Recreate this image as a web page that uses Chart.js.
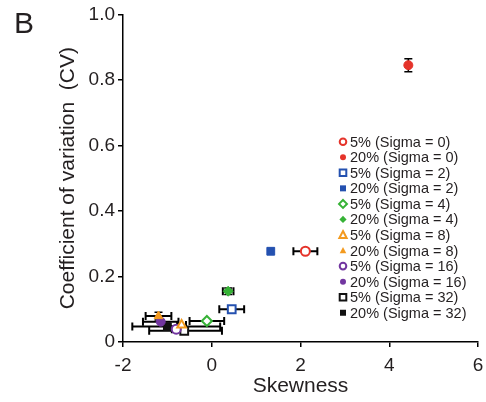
<!DOCTYPE html>
<html>
<head>
<meta charset="utf-8">
<script src="https://cdn.jsdelivr.net/npm/chart.js@4/dist/chart.umd.min.js"></script>
<style>
  html, body { margin: 0; padding: 0; background: #fff; }
  #wrap { width: 486px; height: 402px; position: relative; }
</style>
</head>
<body>
<div id="wrap"><canvas id="scatterChart"></canvas></div>
<script>
// Series
const seriesNames = [
    '5% (Sigma = 0)', '20% (Sigma = 0)',
    '5% (Sigma = 2)', '20% (Sigma = 2)',
    '5% (Sigma = 4)', '20% (Sigma = 4)',
    '5% (Sigma = 8)', '20% (Sigma = 8)',
    '5% (Sigma = 16)', '20% (Sigma = 16)',
    '5% (Sigma = 32)', '20% (Sigma = 32)'
];
const skewness     = [2.11, 4.43, 0.45, 1.33, -0.11, 0.37, -0.68, -1.20, -0.80, -1.15, -0.62, -1.00];
const cv           = [0.277, 0.845, 0.100, 0.277, 0.064, 0.155, 0.052, 0.079, 0.039, 0.062, 0.034, 0.047];
const skewErrMinus = [0.27, 0, 0.28, 0, 0.39, 0.12, 0.10, 0.29, 0.10, 0.40, 0.79, 0.79];
const skewErrPlus  = [0.27, 0, 0.28, 0, 0.39, 0.12, 0.10, 0.29, 0.10, 0.40, 0.85, 1.19];
const cvErr        = [0, 0.02, 0, 0, 0, 0.01, 0, 0.012, 0, 0, 0, 0];

const xTicks = [-2, 0, 2, 4, 6];
const yTicks = [0, 0.2, 0.4, 0.6, 0.8, 1.0];

// Marker styles
const colors = ['#e5332a', '#e5332a', '#2451b0', '#2451b0', '#36b236', '#36b236',
                '#f39a1f', '#f39a1f', '#7236a0', '#7236a0', '#111111', '#111111'];
const shapes = ['circle', 'circle', 'rect', 'rect', 'rectRot', 'rectRot',
                'triangle', 'triangle', 'circle', 'circle', 'rect', 'rect'];
const radii = { circle: 4.5, rect: 5.5, rectRot: 5, triangle: 5 };

const textColor = '#231f20';
const fontFamily = '"Liberation Sans", Arial, sans-serif';

const datasets = seriesNames.map((name, i) => {
    const open = i % 2 === 0;
    return {
        label: name,
        data: [{ x: skewness[i], y: cv[i] }],
        pointStyle: shapes[i],
        pointRadius: radii[shapes[i]],
        pointHoverRadius: radii[shapes[i]],
        pointBorderWidth: open ? 2 : 1,
        pointBorderColor: colors[i],
        pointBackgroundColor: open ? '#ffffff' : colors[i]
    };
});

// error bars, drawn under the markers
const errorBars = {
    id: 'errorBars',
    beforeDatasetsDraw(chart) {
        const { ctx, scales: { x, y } } = chart;
        ctx.save();
        ctx.strokeStyle = '#000';
        const cap = 4;
        datasets.forEach((ds, i) => {
            const px = x.getPixelForValue(skewness[i]);
            const py = y.getPixelForValue(cv[i]);
            if (skewErrMinus[i] > 0 || skewErrPlus[i] > 0) {
                const x1 = x.getPixelForValue(skewness[i] - skewErrMinus[i]);
                const x2 = x.getPixelForValue(skewness[i] + skewErrPlus[i]);
                ctx.lineWidth = 2;
                ctx.beginPath();
                ctx.moveTo(x1, py); ctx.lineTo(x2, py);
                ctx.moveTo(x1, py - cap); ctx.lineTo(x1, py + cap);
                ctx.moveTo(x2, py - cap); ctx.lineTo(x2, py + cap);
                ctx.stroke();
            }
            if (cvErr[i] > 0) {
                const y1 = y.getPixelForValue(cv[i] - cvErr[i]);
                const y2 = y.getPixelForValue(cv[i] + cvErr[i]);
                ctx.lineWidth = 1.5;
                ctx.beginPath();
                ctx.moveTo(px, y1); ctx.lineTo(px, y2);
                ctx.moveTo(px - cap, y1); ctx.lineTo(px + cap, y1);
                ctx.moveTo(px - cap, y2); ctx.lineTo(px + cap, y2);
                ctx.stroke();
            }
        });
        ctx.restore();
    }
};

function drawMarker(ctx, shape, open, color, cx, cy, r) {
    ctx.beginPath();
    if (shape === 'circle') {
        ctx.arc(cx, cy, r, 0, Math.PI * 2);
    } else if (shape === 'rect') {
        ctx.rect(cx - r, cy - r, 2 * r, 2 * r);
    } else if (shape === 'rectRot') {
        ctx.moveTo(cx, cy - r * 1.2); ctx.lineTo(cx + r * 1.2, cy);
        ctx.lineTo(cx, cy + r * 1.2); ctx.lineTo(cx - r * 1.2, cy);
        ctx.closePath();
    } else {
        ctx.moveTo(cx, cy - r * 1.2); ctx.lineTo(cx + r * 1.1, cy + r * 0.9);
        ctx.lineTo(cx - r * 1.1, cy + r * 0.9);
        ctx.closePath();
    }
    if (open) {
        ctx.fillStyle = '#fff';
        ctx.fill();
        ctx.lineWidth = 2;
        ctx.strokeStyle = color;
        ctx.stroke();
    } else {
        ctx.fillStyle = color;
        ctx.fill();
    }
}

// legend inside the plot + panel letter
const sideLegend = {
    id: 'sideLegend',
    afterDraw(chart) {
        const ctx = chart.ctx;
        ctx.save();
        ctx.font = '14.5px ' + fontFamily;
        ctx.textBaseline = 'middle';
        ctx.textAlign = 'left';
        seriesNames.forEach((name, i) => {
            const rowY = 141.7 + i * 15.55;
            const open = i % 2 === 0;
            drawMarker(ctx, shapes[i], open, colors[i], 343, rowY, open ? 3.3 : 3);
            ctx.fillStyle = textColor;
            ctx.fillText(name, 350, rowY + 1);
        });
        ctx.font = '30px ' + fontFamily;
        ctx.textBaseline = 'alphabetic';
        ctx.fillText('B', 14, 33);
        ctx.restore();
    }
};

const axisGrid = {
    display: true,
    drawOnChartArea: false,
    drawTicks: true,
    tickLength: 5,
    color: '#000',
    lineWidth: 1.5
};

new Chart(document.getElementById('scatterChart'), {
    type: 'scatter',
    data: { datasets },
    options: {
        responsive: true,
        maintainAspectRatio: false,
        animation: false,
        layout: { padding: { left: 52, right: 8, top: 13, bottom: 0 } },
        plugins: {
            legend: { display: false },
            tooltip: { enabled: false }
        },
        scales: {
            x: {
                type: 'linear',
                min: -2,
                max: 6,
                afterBuildTicks: (s) => { s.ticks = xTicks.map(v => ({ value: v })); },
                afterFit: (s) => { s.height = 60; },
                ticks: {
                    color: textColor,
                    font: { family: fontFamily, size: 19, lineHeight: 1.8 },
                    padding: 2,
                    maxRotation: 0
                },
                grid: axisGrid,
                border: { display: true, color: '#000', width: 1.5 },
                title: {
                    display: true,
                    text: 'Skewness',
                    color: textColor,
                    font: { family: fontFamily, size: 21 },
                    padding: { top: 0, bottom: 3 }
                }
            },
            y: {
                min: 0,
                max: 1,
                afterBuildTicks: (s) => { s.ticks = yTicks.map(v => ({ value: v })); },
                afterFit: (s) => { s.width = 71; },
                ticks: {
                    color: textColor,
                    font: { family: fontFamily, size: 19 },
                    padding: 3,
                    callback: (v) => v === 0 ? '0' : v.toFixed(1)
                },
                grid: axisGrid,
                border: { display: true, color: '#000', width: 1.5 },
                title: {
                    display: true,
                    text: 'Coefficient of variation  (CV)',
                    color: textColor,
                    font: { family: fontFamily, size: 21 },
                    padding: { top: 4, bottom: 4 }
                }
            }
        }
    },
    plugins: [errorBars, sideLegend]
});
</script>
</body>
</html>
